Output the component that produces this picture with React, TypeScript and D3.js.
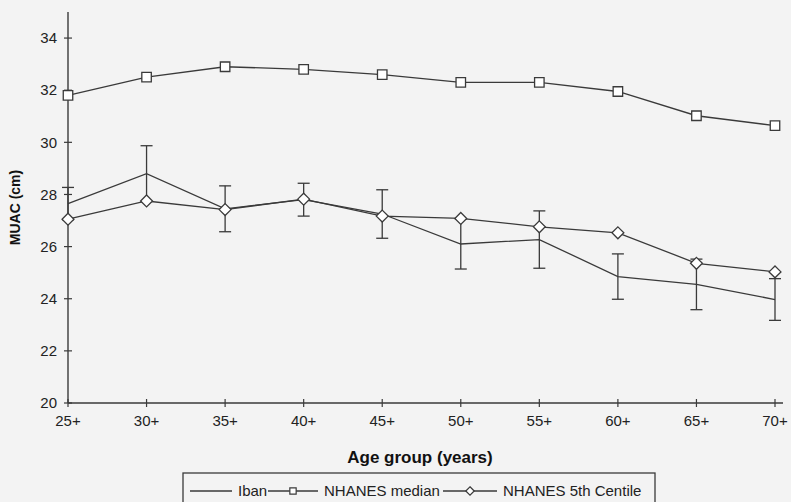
import React, { useEffect, useRef } from "react";
import * as d3 from "d3";

const ageGroups = ["25+", "30+", "35+", "40+", "45+", "50+", "55+", "60+", "65+", "70+"];
const ibanMean = [27.65, 28.8, 27.45, 27.8, 27.25, 26.1, 26.27, 24.85, 24.55, 23.97];
const ibanErr = [0.62, 1.07, 0.88, 0.63, 0.93, 0.96, 1.1, 0.87, 0.97, 0.8];
const nhanesMedian = [31.8, 32.5, 32.9, 32.8, 32.6, 32.3, 32.3, 31.95, 31.02, 30.64];
const nhanes5th = [27.05, 27.75, 27.42, 27.82, 27.17, 27.08, 26.76, 26.53, 25.36, 25.03];
const yTicks = [20, 22, 24, 26, 28, 30, 32, 34];

const W = 791;
const H = 502;
const ink = "#3a3a3a";

const App = () => {
  const ref = useRef<SVGSVGElement>(null);

  useEffect(() => {
    const svg = d3.select(ref.current);
    svg.selectAll("*").remove();

    const x = d3.scalePoint().domain(ageGroups).range([68, 775]);
    const y = d3.scaleLinear().domain([20, 35]).range([403, 12]);
    const font = "Arial, 'Liberation Sans', sans-serif";

    svg.append("rect").attr("width", W).attr("height", H).attr("fill", "#f3f3f3");

    // axes
    svg.append("line").attr("x1", 68).attr("x2", 68).attr("y1", y(35)).attr("y2", y(20))
      .attr("stroke", ink).attr("stroke-width", 1.4);
    svg.append("line").attr("x1", 68).attr("x2", x("70+")! + 8).attr("y1", y(20)).attr("y2", y(20))
      .attr("stroke", ink).attr("stroke-width", 1.4);

    const yt = svg.append("g");
    yTicks.forEach((t) => {
      yt.append("line").attr("x1", 64).attr("x2", 72).attr("y1", y(t)).attr("y2", y(t))
        .attr("stroke", ink).attr("stroke-width", 1.2);
      yt.append("text").attr("x", 57).attr("y", y(t)).attr("dy", "0.35em")
        .attr("text-anchor", "end").attr("font-family", font).attr("font-size", 15)
        .attr("fill", "#222").text(t);
    });

    const xt = svg.append("g");
    ageGroups.forEach((a) => {
      xt.append("line").attr("x1", x(a)!).attr("x2", x(a)!).attr("y1", 399).attr("y2", 407)
        .attr("stroke", ink).attr("stroke-width", 1.2);
      xt.append("text").attr("x", x(a)!).attr("y", 426).attr("text-anchor", "middle")
        .attr("font-family", font).attr("font-size", 15).attr("fill", "#222").text(a);
    });

    svg.append("text").attr("x", 420).attr("y", 463).attr("text-anchor", "middle")
      .attr("font-family", font).attr("font-size", 17).attr("font-weight", "bold")
      .attr("fill", "#111").text("Age group (years)");
    svg.append("text").attr("transform", `translate(20,${y(27.5)}) rotate(-90)`)
      .attr("text-anchor", "middle").attr("font-family", font).attr("font-size", 14)
      .attr("font-weight", "bold").attr("fill", "#111").text("MUAC (cm)");

    const line = (vals: number[]) =>
      d3.line<number>().x((_, i) => x(ageGroups[i])!).y((d) => y(d))(vals);

    // error bars
    const eb = svg.append("g").attr("stroke", ink).attr("stroke-width", 1.3);
    ibanMean.forEach((m, i) => {
      const cx = x(ageGroups[i])!;
      eb.append("line").attr("x1", cx).attr("x2", cx).attr("y1", y(m - ibanErr[i])).attr("y2", y(m + ibanErr[i]));
      [m - ibanErr[i], m + ibanErr[i]].forEach((v) =>
        eb.append("line").attr("x1", cx - 6).attr("x2", cx + 6).attr("y1", y(v)).attr("y2", y(v)));
    });

    [ibanMean, nhanesMedian, nhanes5th].forEach((s) =>
      svg.append("path").attr("d", line(s)).attr("fill", "none").attr("stroke", ink).attr("stroke-width", 1.3));

    const sq = d3.symbol().type(d3.symbolSquare).size(90);
    const dm = d3.symbol().type(d3.symbolDiamond2).size(90);
    nhanesMedian.forEach((v, i) =>
      svg.append("path").attr("d", sq()).attr("transform", `translate(${x(ageGroups[i])},${y(v)})`)
        .attr("fill", "#fff").attr("stroke", ink).attr("stroke-width", 1.3));
    nhanes5th.forEach((v, i) =>
      svg.append("path").attr("d", dm()).attr("transform", `translate(${x(ageGroups[i])},${y(v)})`)
        .attr("fill", "#fff").attr("stroke", ink).attr("stroke-width", 1.3));

    // legend
    const lg = svg.append("g");
    lg.append("rect").attr("x", 183).attr("y", 473).attr("width", 472).attr("height", 40)
      .attr("fill", "none").attr("stroke", ink).attr("stroke-width", 1.3);
    const items = [
      { label: "Iban", x0: 190, x1: 232, sym: null },
      { label: "NHANES median", x0: 268, x1: 318, sym: sq.size(40) },
      { label: "NHANES 5th Centile", x0: 443, x1: 497, sym: d3.symbol().type(d3.symbolDiamond2).size(45) },
    ];
    items.forEach((it) => {
      lg.append("line").attr("x1", it.x0).attr("x2", it.x1).attr("y1", 491).attr("y2", 491)
        .attr("stroke", ink).attr("stroke-width", 1.3);
      if (it.sym) {
        lg.append("path").attr("d", it.sym())
          .attr("transform", `translate(${(it.x0 + it.x1) / 2},491)`).attr("fill", "#fff")
          .attr("stroke", ink).attr("stroke-width", 1.2);
      }
      lg.append("text").attr("x", it.x1 + 6).attr("y", 491).attr("dy", "0.35em")
        .attr("font-family", font).attr("font-size", 15).attr("fill", "#222").text(it.label);
    });
  }, []);

  return (
    <svg ref={ref} width={W} height={H} style={{ position: "absolute", left: 0, top: 0 }} />
  );
};

export default App;
